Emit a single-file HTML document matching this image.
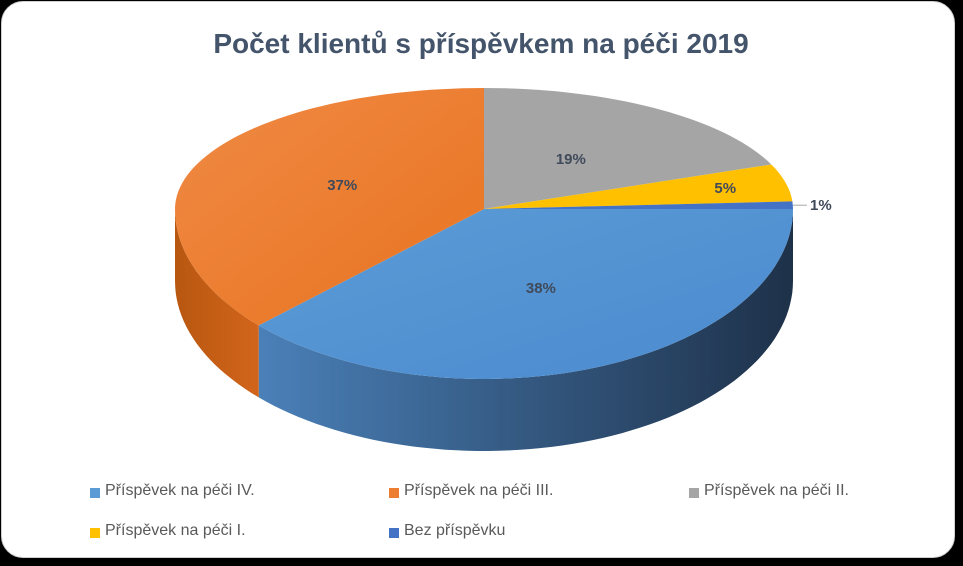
<!DOCTYPE html>
<html><head><meta charset="utf-8">
<style>
html,body{margin:0;padding:0;background:#000;}
#card{position:absolute;left:1px;top:1px;width:952px;height:555px;background:#fff;border:1px solid #d0d0d0;border-radius:22px;overflow:hidden;font-family:"Liberation Sans",sans-serif;}
.lg{position:absolute;font-size:16px;color:#595959;}
.sw{position:absolute;width:10px;height:10px;}
</style></head><body>
<div id="card">
<svg id="pie" width="963" height="566" style="position:absolute;left:-1px;top:-1px">
<defs>
<linearGradient id="gBlueSide" x1="0" x2="1" y1="0" y2="0"><stop offset="0" stop-color="#4a80b8"/><stop offset="1" stop-color="#1e3149"/></linearGradient>
<linearGradient id="gOrSide" x1="0" x2="1"><stop offset="0" stop-color="#b85710"/><stop offset="1" stop-color="#d2651b"/></linearGradient>
<linearGradient id="gBlueTop" x1="0" x2="1" y1="0" y2="1"><stop offset="0" stop-color="#5b9bd5"/><stop offset="1" stop-color="#4b8bd0"/></linearGradient>
<linearGradient id="gOrTop" x1="0" x2="1" y1="0" y2="1"><stop offset="0" stop-color="#f08a45"/><stop offset="1" stop-color="#e8731f"/></linearGradient>
</defs>
<text x="480" y="52" text-anchor="middle" font-size="28" font-weight="bold" fill="#44546a" font-family="Liberation Sans, sans-serif">Počet klientů s příspěvkem na péči 2019</text>
</svg>
<div class="sw" style="left:88px;top:486px;background:#5b9bd5"></div>
<div class="lg" style="left:103px;top:480px">Příspěvek na péči IV.</div>
<div class="sw" style="left:387px;top:486px;background:#ed7d31"></div>
<div class="lg" style="left:402px;top:480px">Příspěvek na péči III.</div>
<div class="sw" style="left:687px;top:486px;background:#a5a5a5"></div>
<div class="lg" style="left:702px;top:480px">Příspěvek na péči II.</div>
<div class="sw" style="left:88px;top:526px;background:#ffc000"></div>
<div class="lg" style="left:103px;top:520px">Příspěvek na péči I.</div>
<div class="sw" style="left:387px;top:526px;background:#4472c4"></div>
<div class="lg" style="left:402px;top:520px">Bez příspěvku</div>
</div>
<script>
const categories=["Příspěvek na péči IV.","Příspěvek na péči III.","Příspěvek na péči II.","Příspěvek na péči I.","Bez příspěvku"];
const values=[38,37,19,5,1];
const labels=["38%","37%","19%","5%","1%"];
const topFill=["url(#gBlueTop)","url(#gOrTop)","#a5a5a5","#ffc000","#4472c4"];
const sideFill=["url(#gBlueSide)","url(#gOrSide)","#7c7c7c","#bf9000","#2f5597"];
const svg=document.getElementById('pie');
const NS='http://www.w3.org/2000/svg';
const ax=483,ay=208,rx=309,ryBack=121,ryFront=170,depth=72,startDeg=90;
function pt(d,dy,f){f=f||1;const r=d*Math.PI/180;const c=Math.cos(r);const ry=c>0?ryBack:ryFront;return [ax+rx*f*Math.sin(r),ay-ry*f*c+(dy||0)];}
function arc(a0,a1,dy){let s="";const n=Math.max(2,Math.ceil(Math.abs(a1-a0)/2));for(let i=0;i<=n;i++){const p=pt(a0+(a1-a0)*i/n,dy);s+=(i?"L":"")+p[0].toFixed(1)+","+p[1].toFixed(1)+" ";}return s;}
const total=values.reduce((a,b)=>a+b,0);
let a=startDeg;const spans=[];
values.forEach(v=>{const b=a+v/total*360;spans.push([a,b]);a=b;});
spans.forEach((s,i)=>{
  const f0=Math.max(s[0],90),f1=Math.min(s[1],270);
  if(f1>f0){
    const p=document.createElementNS(NS,'path');
    p.setAttribute('d','M'+arc(f0,f1,0)+'L'+arc(f1,f0,depth)+'Z');
    p.setAttribute('fill',sideFill[i]);
    
    
    svg.appendChild(p);
  }
});
spans.forEach((s,i)=>{
  const p=document.createElementNS(NS,'path');
  p.setAttribute('d','M'+ax+','+ay+' L'+arc(s[0],s[1],0)+'Z');
  p.setAttribute('fill',topFill[i]);
  
  
  svg.appendChild(p);
});
spans.forEach((s,i)=>{
  const m=(s[0]+s[1])/2;
  let x,y;
  if(values[i]/total<0.03){
    const e=pt(m,0);
    const l=document.createElementNS(NS,'line');
    l.setAttribute('x1',e[0]);l.setAttribute('y1',e[1]);l.setAttribute('x2',e[0]+14);l.setAttribute('y2',e[1]);
    l.setAttribute('stroke','#a6a6a6');
    
    
    svg.appendChild(l);
    x=e[0]+28;y=e[1]+5;
  } else {
    const f=values[i]/total<0.1?0.8:0.5;
    const p=pt(m,0,f);x=p[0];y=p[1]+5;
  }
  const t=document.createElementNS(NS,'text');
  t.setAttribute('x',x);t.setAttribute('y',y);
  t.setAttribute('text-anchor','middle');
  t.setAttribute('font-size','15');t.setAttribute('font-weight','bold');
  t.setAttribute('fill','#404a5a');t.setAttribute('font-family','Liberation Sans, sans-serif');
  t.textContent=labels[i];
  
  
  svg.appendChild(t);
});
</script>
</body></html>
